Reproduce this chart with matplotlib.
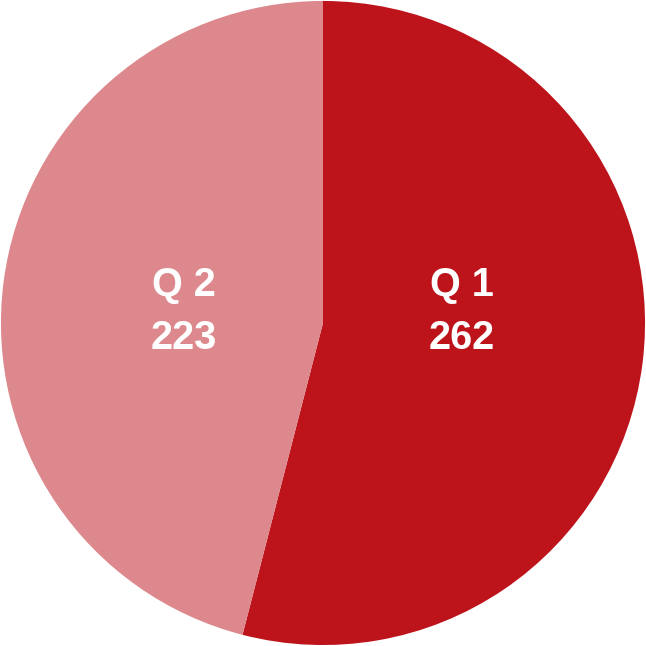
import matplotlib.pyplot as plt
import numpy as np

# Quarter totals
quarters = ["Q 1", "Q 2"]
totals = [262, 223]
colors = ["#BD141C", "#DC888C"]

fig = plt.figure(figsize=(6.46, 6.46), dpi=100)
ax = fig.add_axes([0, 0, 1, 1])

wedges, _ = ax.pie(totals, colors=colors, startangle=90, counterclock=False,
                   radius=1.0, wedgeprops=dict(linewidth=0))

# Labels inside each slice, name above value
for w, name, val in zip(wedges, quarters, totals):
    mid = np.deg2rad((w.theta1 + w.theta2) / 2)
    x = 0.435 * np.cos(mid)
    ax.text(x, 0.035, f"{name}\n{val}", ha="center", va="center",
            color="white", fontsize=28.5, fontweight="bold",
            family="Liberation Sans", linespacing=1.5)

ax.set_xlim(-1.003, 1.003)
ax.set_ylim(-1.003, 1.003)
ax.set_aspect("equal")
ax.axis("off")

fig.savefig("out.png", dpi=100, facecolor="white")
